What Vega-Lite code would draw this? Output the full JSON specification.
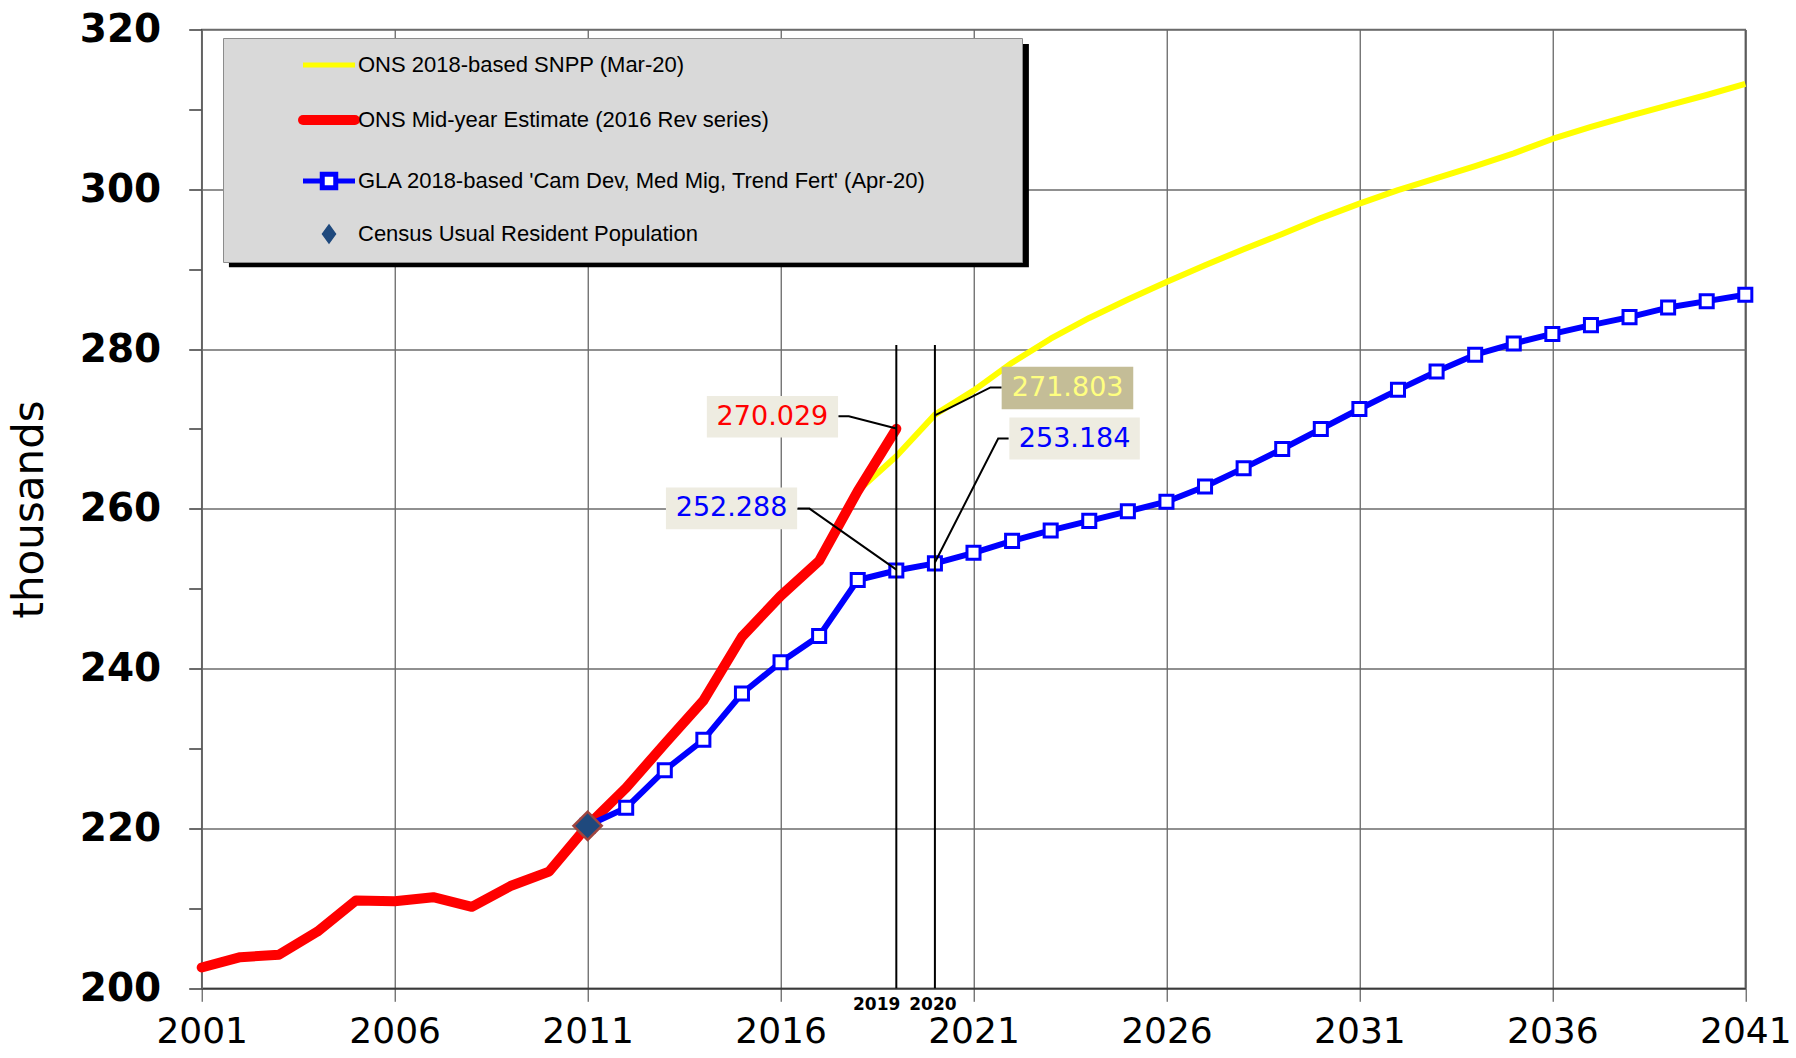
{
  "$schema": "https://vega.github.io/schema/vega-lite/v6.json",
  "width": 1543.6,
  "height": 958.8,
  "autosize": {"type": "none"},
  "padding": {"left": 201.7, "top": 29.5, "right": 50.7, "bottom": 69.7},
  "background": "white",
  "config": {
    "view": {"stroke": "#6b6b6b", "strokeWidth": 1.5},
    "font": "DejaVu Sans"
  },
  "datasets": {
    "series": [
      {"key": "mye", "series": "ONS Mid-year Estimate (2016 Rev series)", "year": 2001, "value": 202.6},
      {"key": "mye", "series": "ONS Mid-year Estimate (2016 Rev series)", "year": 2002, "value": 203.9},
      {"key": "mye", "series": "ONS Mid-year Estimate (2016 Rev series)", "year": 2003, "value": 204.2},
      {"key": "mye", "series": "ONS Mid-year Estimate (2016 Rev series)", "year": 2004, "value": 207.1},
      {"key": "mye", "series": "ONS Mid-year Estimate (2016 Rev series)", "year": 2005, "value": 211.0},
      {"key": "mye", "series": "ONS Mid-year Estimate (2016 Rev series)", "year": 2006, "value": 210.9},
      {"key": "mye", "series": "ONS Mid-year Estimate (2016 Rev series)", "year": 2007, "value": 211.4},
      {"key": "mye", "series": "ONS Mid-year Estimate (2016 Rev series)", "year": 2008, "value": 210.2},
      {"key": "mye", "series": "ONS Mid-year Estimate (2016 Rev series)", "year": 2009, "value": 212.8},
      {"key": "mye", "series": "ONS Mid-year Estimate (2016 Rev series)", "year": 2010, "value": 214.6},
      {"key": "mye", "series": "ONS Mid-year Estimate (2016 Rev series)", "year": 2011, "value": 220.338},
      {"key": "mye", "series": "ONS Mid-year Estimate (2016 Rev series)", "year": 2012, "value": 225.1},
      {"key": "mye", "series": "ONS Mid-year Estimate (2016 Rev series)", "year": 2013, "value": 230.6},
      {"key": "mye", "series": "ONS Mid-year Estimate (2016 Rev series)", "year": 2014, "value": 236.0},
      {"key": "mye", "series": "ONS Mid-year Estimate (2016 Rev series)", "year": 2015, "value": 244.0},
      {"key": "mye", "series": "ONS Mid-year Estimate (2016 Rev series)", "year": 2016, "value": 249.1},
      {"key": "mye", "series": "ONS Mid-year Estimate (2016 Rev series)", "year": 2017, "value": 253.5},
      {"key": "mye", "series": "ONS Mid-year Estimate (2016 Rev series)", "year": 2018, "value": 262.226},
      {"key": "mye", "series": "ONS Mid-year Estimate (2016 Rev series)", "year": 2019, "value": 270.029},
      {"key": "snpp", "series": "ONS 2018-based SNPP (Mar-20)", "year": 2018, "value": 262.226},
      {"key": "snpp", "series": "ONS 2018-based SNPP (Mar-20)", "year": 2019, "value": 266.6},
      {"key": "snpp", "series": "ONS 2018-based SNPP (Mar-20)", "year": 2020, "value": 271.803},
      {"key": "snpp", "series": "ONS 2018-based SNPP (Mar-20)", "year": 2021, "value": 274.8},
      {"key": "snpp", "series": "ONS 2018-based SNPP (Mar-20)", "year": 2022, "value": 278.3},
      {"key": "snpp", "series": "ONS 2018-based SNPP (Mar-20)", "year": 2023, "value": 281.3},
      {"key": "snpp", "series": "ONS 2018-based SNPP (Mar-20)", "year": 2024, "value": 283.9},
      {"key": "snpp", "series": "ONS 2018-based SNPP (Mar-20)", "year": 2025, "value": 286.2},
      {"key": "snpp", "series": "ONS 2018-based SNPP (Mar-20)", "year": 2026, "value": 288.4},
      {"key": "snpp", "series": "ONS 2018-based SNPP (Mar-20)", "year": 2027, "value": 290.5},
      {"key": "snpp", "series": "ONS 2018-based SNPP (Mar-20)", "year": 2028, "value": 292.5},
      {"key": "snpp", "series": "ONS 2018-based SNPP (Mar-20)", "year": 2029, "value": 294.4},
      {"key": "snpp", "series": "ONS 2018-based SNPP (Mar-20)", "year": 2030, "value": 296.4},
      {"key": "snpp", "series": "ONS 2018-based SNPP (Mar-20)", "year": 2031, "value": 298.2},
      {"key": "snpp", "series": "ONS 2018-based SNPP (Mar-20)", "year": 2032, "value": 299.9},
      {"key": "snpp", "series": "ONS 2018-based SNPP (Mar-20)", "year": 2033, "value": 301.4},
      {"key": "snpp", "series": "ONS 2018-based SNPP (Mar-20)", "year": 2034, "value": 302.9},
      {"key": "snpp", "series": "ONS 2018-based SNPP (Mar-20)", "year": 2035, "value": 304.5},
      {"key": "snpp", "series": "ONS 2018-based SNPP (Mar-20)", "year": 2036, "value": 306.3},
      {"key": "snpp", "series": "ONS 2018-based SNPP (Mar-20)", "year": 2037, "value": 307.8},
      {"key": "snpp", "series": "ONS 2018-based SNPP (Mar-20)", "year": 2038, "value": 309.2},
      {"key": "snpp", "series": "ONS 2018-based SNPP (Mar-20)", "year": 2039, "value": 310.5},
      {"key": "snpp", "series": "ONS 2018-based SNPP (Mar-20)", "year": 2040, "value": 311.8},
      {"key": "snpp", "series": "ONS 2018-based SNPP (Mar-20)", "year": 2041, "value": 313.2},
      {"key": "gla", "series": "GLA 2018-based 'Cam Dev, Med Mig, Trend Fert' (Apr-20)", "year": 2011, "value": 220.338},
      {"key": "gla", "series": "GLA 2018-based 'Cam Dev, Med Mig, Trend Fert' (Apr-20)", "year": 2012, "value": 222.6},
      {"key": "gla", "series": "GLA 2018-based 'Cam Dev, Med Mig, Trend Fert' (Apr-20)", "year": 2013, "value": 227.3},
      {"key": "gla", "series": "GLA 2018-based 'Cam Dev, Med Mig, Trend Fert' (Apr-20)", "year": 2014, "value": 231.1},
      {"key": "gla", "series": "GLA 2018-based 'Cam Dev, Med Mig, Trend Fert' (Apr-20)", "year": 2015, "value": 236.9},
      {"key": "gla", "series": "GLA 2018-based 'Cam Dev, Med Mig, Trend Fert' (Apr-20)", "year": 2016, "value": 240.8},
      {"key": "gla", "series": "GLA 2018-based 'Cam Dev, Med Mig, Trend Fert' (Apr-20)", "year": 2017, "value": 244.1},
      {"key": "gla", "series": "GLA 2018-based 'Cam Dev, Med Mig, Trend Fert' (Apr-20)", "year": 2018, "value": 251.1},
      {"key": "gla", "series": "GLA 2018-based 'Cam Dev, Med Mig, Trend Fert' (Apr-20)", "year": 2019, "value": 252.288},
      {"key": "gla", "series": "GLA 2018-based 'Cam Dev, Med Mig, Trend Fert' (Apr-20)", "year": 2020, "value": 253.184},
      {"key": "gla", "series": "GLA 2018-based 'Cam Dev, Med Mig, Trend Fert' (Apr-20)", "year": 2021, "value": 254.5},
      {"key": "gla", "series": "GLA 2018-based 'Cam Dev, Med Mig, Trend Fert' (Apr-20)", "year": 2022, "value": 256.0},
      {"key": "gla", "series": "GLA 2018-based 'Cam Dev, Med Mig, Trend Fert' (Apr-20)", "year": 2023, "value": 257.3},
      {"key": "gla", "series": "GLA 2018-based 'Cam Dev, Med Mig, Trend Fert' (Apr-20)", "year": 2024, "value": 258.5},
      {"key": "gla", "series": "GLA 2018-based 'Cam Dev, Med Mig, Trend Fert' (Apr-20)", "year": 2025, "value": 259.7},
      {"key": "gla", "series": "GLA 2018-based 'Cam Dev, Med Mig, Trend Fert' (Apr-20)", "year": 2026, "value": 260.9},
      {"key": "gla", "series": "GLA 2018-based 'Cam Dev, Med Mig, Trend Fert' (Apr-20)", "year": 2027, "value": 262.8},
      {"key": "gla", "series": "GLA 2018-based 'Cam Dev, Med Mig, Trend Fert' (Apr-20)", "year": 2028, "value": 265.1},
      {"key": "gla", "series": "GLA 2018-based 'Cam Dev, Med Mig, Trend Fert' (Apr-20)", "year": 2029, "value": 267.5},
      {"key": "gla", "series": "GLA 2018-based 'Cam Dev, Med Mig, Trend Fert' (Apr-20)", "year": 2030, "value": 270.0},
      {"key": "gla", "series": "GLA 2018-based 'Cam Dev, Med Mig, Trend Fert' (Apr-20)", "year": 2031, "value": 272.5},
      {"key": "gla", "series": "GLA 2018-based 'Cam Dev, Med Mig, Trend Fert' (Apr-20)", "year": 2032, "value": 274.9},
      {"key": "gla", "series": "GLA 2018-based 'Cam Dev, Med Mig, Trend Fert' (Apr-20)", "year": 2033, "value": 277.2},
      {"key": "gla", "series": "GLA 2018-based 'Cam Dev, Med Mig, Trend Fert' (Apr-20)", "year": 2034, "value": 279.3},
      {"key": "gla", "series": "GLA 2018-based 'Cam Dev, Med Mig, Trend Fert' (Apr-20)", "year": 2035, "value": 280.7},
      {"key": "gla", "series": "GLA 2018-based 'Cam Dev, Med Mig, Trend Fert' (Apr-20)", "year": 2036, "value": 281.9},
      {"key": "gla", "series": "GLA 2018-based 'Cam Dev, Med Mig, Trend Fert' (Apr-20)", "year": 2037, "value": 283.0},
      {"key": "gla", "series": "GLA 2018-based 'Cam Dev, Med Mig, Trend Fert' (Apr-20)", "year": 2038, "value": 284.0},
      {"key": "gla", "series": "GLA 2018-based 'Cam Dev, Med Mig, Trend Fert' (Apr-20)", "year": 2039, "value": 285.2},
      {"key": "gla", "series": "GLA 2018-based 'Cam Dev, Med Mig, Trend Fert' (Apr-20)", "year": 2040, "value": 286.0},
      {"key": "gla", "series": "GLA 2018-based 'Cam Dev, Med Mig, Trend Fert' (Apr-20)", "year": 2041, "value": 286.8}
    ],
    "census": [
      {"series": "Census Usual Resident Population", "year": 2011, "value": 220.338}
    ],
    "legendbox": [
      {"x": 2001.55, "x2": 2022.28, "y": 318.94, "y2": 291.0}
    ],
    "markers": [
      {"year": 2019, "top": 280.5, "label": "2019"},
      {"year": 2020, "top": 280.5, "label": "2020"}
    ],
    "callouts": [
      {"label": "270.029", "x": 2014.09, "x2": 2017.49, "y": 274.14, "y2": 268.94, "cx": 2015.79, "cy": 271.54},
      {"label": "271.803", "x": 2021.73, "x2": 2025.14, "y": 277.78, "y2": 272.48, "cx": 2023.44, "cy": 275.13},
      {"label": "253.184", "x": 2021.93, "x2": 2025.31, "y": 271.44, "y2": 266.18, "cx": 2023.62, "cy": 268.81},
      {"label": "252.288", "x": 2013.03, "x2": 2016.43, "y": 262.67, "y2": 257.45, "cx": 2014.73, "cy": 260.06}
    ],
    "leaders": [
      {"id": "a", "ord": 1, "year": 2017.5, "value": 271.6},
      {"id": "a", "ord": 2, "year": 2017.77, "value": 271.6},
      {"id": "a", "ord": 3, "year": 2019.0, "value": 270.06},
      {"id": "b", "ord": 1, "year": 2021.73, "value": 275.2},
      {"id": "b", "ord": 2, "year": 2021.44, "value": 275.2},
      {"id": "b", "ord": 3, "year": 2020.0, "value": 271.7},
      {"id": "c", "ord": 1, "year": 2021.91, "value": 268.81},
      {"id": "c", "ord": 2, "year": 2021.64, "value": 268.81},
      {"id": "c", "ord": 3, "year": 2020.0, "value": 253.3},
      {"id": "d", "ord": 1, "year": 2016.44, "value": 260.04},
      {"id": "d", "ord": 2, "year": 2016.75, "value": 260.04},
      {"id": "d", "ord": 3, "year": 2019.0, "value": 252.4}
    ]
  },
  "layer": [
    {
      "data": {"name": "legendbox"},
      "mark": {"type": "rect", "fill": "#000000", "xOffset": 6, "x2Offset": 6, "yOffset": 6, "y2Offset": 6},
      "encoding": {
        "x": {"field": "x", "type": "quantitative", "scale": {"domain": [2001, 2041], "nice": false, "zero": false},
          "axis": {
            "values": [2001, 2006, 2011, 2016, 2021, 2026, 2031, 2036, 2041],
            "format": "d", "title": null, "grid": true,
            "gridColor": "#3a3a3a", "gridWidth": 1,
            "domainColor": "#3a3a3a", "domainWidth": 1.5,
            "tickColor": "#3a3a3a", "tickSize": 13, "tickWidth": 1,
            "labelFont": "DejaVu Sans", "labelFontSize": 36, "labelColor": "#000000",
            "labelPadding": 13, "labelFlush": false, "labelOverlap": false
          }
        },
        "x2": {"field": "x2"},
        "y": {"field": "y", "type": "quantitative", "scale": {"domain": [200, 320], "nice": false, "zero": false},
          "axis": {
            "values": [200, 210, 220, 230, 240, 250, 260, 270, 280, 290, 300, 310, 320],
            "labelExpr": "datum.value % 20 === 0 ? datum.label : ''",
            "title": "thousands", "titleFont": "DejaVu Sans", "titleFontSize": 42, "titleFontWeight": "normal",
            "titleColor": "#000000", "titlePadding": 28,
            "grid": true,
            "gridColor": "#6b6b6b", "gridWidth": 1.5,
            "gridOpacity": {"condition": {"test": "datum.value % 20 !== 0", "value": 0}, "value": 1},
            "domainColor": "#6b6b6b", "domainWidth": 1.5,
            "tickColor": "#3a3a3a", "tickSize": 13, "tickWidth": 1.5,
            "labelFont": "DejaVu Sans", "labelFontSize": 39, "labelFontWeight": "bold", "labelColor": "#000000",
            "labelPadding": 28, "labelOverlap": false
          }
        },
        "y2": {"field": "y2"}
      }
    },
    {
      "data": {"name": "series"},
      "transform": [{"filter": "datum.key === 'snpp'"}],
      "mark": {"type": "line", "strokeWidth": 6, "strokeJoin": "round"},
      "encoding": {
        "x": {"field": "year", "type": "quantitative"},
        "y": {"field": "value", "type": "quantitative"},
        "color": {
          "field": "series", "type": "nominal",
          "scale": {
            "domain": ["ONS 2018-based SNPP (Mar-20)", "ONS Mid-year Estimate (2016 Rev series)", "GLA 2018-based 'Cam Dev, Med Mig, Trend Fert' (Apr-20)", "Census Usual Resident Population"],
            "range": ["#ffff00", "#ff0000", "#0000ff", "#1f497d"]
          },
          "legend": {
            "orient": "none", "legendX": 21.3, "legendY": 8.5,
            "title": null, "fillColor": "#d9d9d9", "strokeColor": "#8c8c8c", "padding": 16,
            "labelFont": "Liberation Sans", "labelFontSize": 22, "labelColor": "#000000", "labelLimit": 1200,
            "labelExpr": "datum.label + (datum.label === 'Census Usual Resident Population' || datum.label === 'ONS Mid-year Estimate (2016 Rev series)' || datum.label === 'ONS 2018-based SNPP (Mar-20)' ? '' : '\u00a0\u00a0\u00a0\u00a0\u00a0\u00a0\u00a0\u00a0\u00a0\u00a0\u00a0\u00a0\u00a0\u200b')",
            "symbolOffset": 79, "labelOffset": 18, "rowPadding": 24,
            "encode": {
              "symbols": {
                "update": {
                  "shape": {"signal": "(datum.value === 'Census Usual Resident Population' ? 'M0,-1.8L1.3,0L0,1.8L-1.3,0Z' : (datum.value === 'ONS Mid-year Estimate (2016 Rev series)' || datum.value === 'ONS 2018-based SNPP (Mar-20)' ? 'M-5.2,0H5.2' : 'M-5.2,0H-1.35M1.35,0H5.2M-1.35,-1.35H1.35V1.35H-1.35Z'))"},
                  "size": {"value": 100},
                  "strokeWidth": {"signal": "(datum.value === 'Census Usual Resident Population' ? 1.5 : (datum.value === 'ONS Mid-year Estimate (2016 Rev series)' ? 10 : 5))"},
                  "stroke": {"signal": "(datum.value === 'Census Usual Resident Population' ? '#c0504d' : (datum.value === 'ONS Mid-year Estimate (2016 Rev series)' ? '#ff0000' : (datum.value === 'ONS 2018-based SNPP (Mar-20)' ? '#ffff00' : '#0000ff')))"},
                  "fill": {"signal": "(datum.value === 'Census Usual Resident Population' ? '#1f497d' : (datum.value === 'ONS Mid-year Estimate (2016 Rev series)' || datum.value === 'ONS 2018-based SNPP (Mar-20)' ? 'transparent' : '#ffffff'))"},
                  "strokeCap": {"signal": "(datum.value === 'ONS Mid-year Estimate (2016 Rev series)' ? 'round' : 'butt')"},
                  "opacity": {"value": 1}
                }
              }
            }
          }
        }
      }
    },
    {
      "data": {"name": "series"},
      "transform": [{"filter": "datum.key === 'mye'"}],
      "mark": {"type": "line", "strokeWidth": 10, "strokeJoin": "round", "strokeCap": "round"},
      "encoding": {
        "x": {"field": "year", "type": "quantitative"},
        "y": {"field": "value", "type": "quantitative"},
        "color": {"field": "series", "type": "nominal"}
      }
    },
    {
      "data": {"name": "series"},
      "transform": [{"filter": "datum.key === 'gla'"}],
      "mark": {"type": "line", "strokeWidth": 6, "strokeJoin": "round"},
      "encoding": {
        "x": {"field": "year", "type": "quantitative"},
        "y": {"field": "value", "type": "quantitative"},
        "color": {"field": "series", "type": "nominal"}
      }
    },
    {
      "data": {"name": "series"},
      "transform": [{"filter": "datum.key === 'gla'"}],
      "mark": {"type": "point", "shape": "square", "size": 170, "filled": true, "fill": "#ffffff", "stroke": "#0000ff", "strokeWidth": 3, "opacity": 1},
      "encoding": {
        "x": {"field": "year", "type": "quantitative"},
        "y": {"field": "value", "type": "quantitative"}
      }
    },
    {
      "data": {"name": "census"},
      "mark": {"type": "point", "shape": "diamond", "size": 800, "filled": true, "fill": "#1f497d", "stroke": "#a0453f", "strokeWidth": 2.5, "opacity": 1},
      "encoding": {
        "x": {"field": "year", "type": "quantitative"},
        "y": {"field": "value", "type": "quantitative"}
      }
    },
    {
      "data": {"name": "markers"},
      "mark": {"type": "rule", "color": "#000000", "strokeWidth": 2},
      "encoding": {
        "x": {"field": "year", "type": "quantitative"},
        "y": {"field": "top", "type": "quantitative"},
        "y2": {"datum": 200}
      }
    },
    {
      "data": {"name": "leaders"},
      "mark": {"type": "line", "color": "#000000", "strokeWidth": 2},
      "encoding": {
        "x": {"field": "year", "type": "quantitative"},
        "y": {"field": "value", "type": "quantitative"},
        "detail": {"field": "id", "type": "nominal"},
        "order": {"field": "ord", "type": "quantitative"}
      }
    },
    {
      "data": {"name": "callouts"},
      "mark": {"type": "rect"},
      "encoding": {
        "x": {"field": "x", "type": "quantitative"},
        "x2": {"field": "x2"},
        "y": {"field": "y", "type": "quantitative"},
        "y2": {"field": "y2"},
        "color": {"condition": {"test": "datum.label === '271.803'", "value": "#c4bd97"}, "value": "#eeece1"}
      }
    },
    {
      "data": {"name": "callouts"},
      "mark": {"type": "text", "font": "DejaVu Sans", "fontSize": 27, "align": "center", "baseline": "middle"},
      "encoding": {
        "x": {"field": "cx", "type": "quantitative"},
        "y": {"field": "cy", "type": "quantitative"},
        "text": {"field": "label", "type": "nominal"},
        "color": {"condition": [
          {"test": "datum.label === '270.029'", "value": "#ff0000"},
          {"test": "datum.label === '271.803'", "value": "#ffff80"}
        ], "value": "#0000ff"}
      }
    },
    {
      "data": {"name": "markers"},
      "transform": [{"filter": "datum.year === 2019"}],
      "mark": {"type": "text", "font": "DejaVu Sans", "fontWeight": "bold", "fontSize": 17, "align": "right", "baseline": "middle", "dy": 17, "dx": 4, "color": "#000000"},
      "encoding": {
        "x": {"field": "year", "type": "quantitative"},
        "y": {"datum": 200, "type": "quantitative"},
        "text": {"field": "label", "type": "nominal"}
      }
    },
    {
      "data": {"name": "markers"},
      "transform": [{"filter": "datum.year === 2020"}],
      "mark": {"type": "text", "font": "DejaVu Sans", "fontWeight": "bold", "fontSize": 17, "align": "center", "baseline": "middle", "dy": 17, "dx": -2, "color": "#000000"},
      "encoding": {
        "x": {"field": "year", "type": "quantitative"},
        "y": {"datum": 200, "type": "quantitative"},
        "text": {"field": "label", "type": "nominal"}
      }
    }
  ]
}
